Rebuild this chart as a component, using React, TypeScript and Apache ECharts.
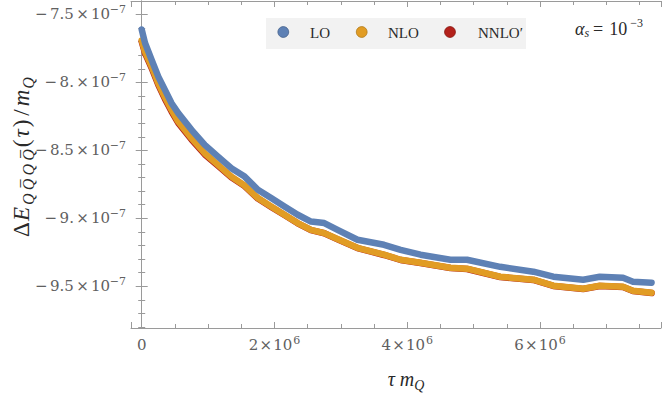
import React, { useEffect, useRef } from "react";
import * as echarts from "echarts";

// tau * m_Q values
const tau = [
  0, 5e4, 1.5e5, 2.5e5, 3.5e5, 4.5e5, 5.5e5, 7.5e5, 9.5e5, 1.15e6, 1.35e6, 1.55e6,
  1.75e6, 1.95e6, 2.15e6, 2.35e6, 2.55e6, 2.75e6, 2.95e6, 3.25e6, 3.65e6, 3.9e6,
  4.2e6, 4.65e6, 4.9e6, 5.4e6, 5.9e6, 6.2e6, 6.65e6, 6.9e6, 7.25e6, 7.4e6, 7.68e6,
];
const LO = [
  -7.61e-7, -7.71e-7, -7.835e-7, -7.957e-7, -8.055e-7, -8.153e-7, -8.226e-7, -8.349e-7,
  -8.46e-7, -8.546e-7, -8.631e-7, -8.693e-7, -8.79e-7, -8.851e-7, -8.913e-7, -8.974e-7,
  -9.024e-7, -9.035e-7, -9.085e-7, -9.158e-7, -9.195e-7, -9.232e-7, -9.268e-7, -9.305e-7,
  -9.305e-7, -9.357e-7, -9.393e-7, -9.43e-7, -9.452e-7, -9.43e-7, -9.438e-7, -9.467e-7,
  -9.474e-7,
];
const NLO = [
  -7.69e-7, -7.774e-7, -7.884e-7, -8.006e-7, -8.109e-7, -8.202e-7, -8.288e-7, -8.41e-7,
  -8.521e-7, -8.607e-7, -8.693e-7, -8.759e-7, -8.851e-7, -8.913e-7, -8.974e-7, -9.035e-7,
  -9.085e-7, -9.109e-7, -9.153e-7, -9.217e-7, -9.268e-7, -9.305e-7, -9.327e-7, -9.364e-7,
  -9.371e-7, -9.43e-7, -9.452e-7, -9.496e-7, -9.518e-7, -9.496e-7, -9.504e-7, -9.533e-7,
  -9.548e-7,
];
const NNLO = [
  -7.7e-7, -7.785e-7, -7.895e-7, -8.018e-7, -8.121e-7, -8.214e-7, -8.298e-7, -8.42e-7,
  -8.53e-7, -8.614e-7, -8.698e-7, -8.763e-7, -8.855e-7, -8.916e-7, -8.976e-7, -9.037e-7,
  -9.087e-7, -9.11e-7, -9.155e-7, -9.219e-7, -9.27e-7, -9.307e-7, -9.329e-7, -9.366e-7,
  -9.373e-7, -9.432e-7, -9.454e-7, -9.498e-7, -9.52e-7, -9.498e-7, -9.506e-7, -9.535e-7,
  -9.55e-7,
];
const seriesNames = ["LO", "NLO", "NNLO\u2032"];
const seriesColors = ["#5e81b5", "#e19c24", "#b3211b"];
const seriesBorders = ["#46628c", "#b07a1a", "#851812"];

const X_MIN = -1.613e5;
const X_MAX = 7.822e6;
const Y_MIN = -9.8074e-7;
const Y_MAX = -7.4007e-7;

const FONT = "Liberation Serif";
const TICK_FONT = "DejaVu Serif";
const AXIS_COLOR = "#9a9a9a";
const LABEL_COLOR = "#606060";
const TEXT_COLOR = "#2a2a2a";

const base = { fontFamily: TICK_FONT, fontSize: 15, color: LABEL_COLOR, lineHeight: 20 };
const labelRich = {
  n: { ...base },
  m: { ...base, width: 15, align: "left" },
  x: { ...base, width: 17, align: "center" },
  x2: { ...base, width: 15, align: "center" },
  s: { ...base, fontSize: 11, verticalAlign: "top", width: 16, align: "right" },
  s2: { ...base, fontSize: 11, verticalAlign: "top", width: 8, align: "right" },
};

function yFmt(v: number) {
  const k = Math.round(v * 1e8) / 10;
  const a = Math.abs(k);
  const str = Number.isInteger(a) ? `${a}.` : a.toFixed(1);
  return `{m|\u2212}{n|${str}}{x|×}{n|10}{s|\u22127}`;
}
function xFmt(v: number) {
  if (Math.abs(v) < 1) return "{n|0}";
  const k = Math.round(v / 1e6);
  return `{n|${k}}{x2|×}{n|10}{s2|6}`;
}

export default function App() {
  const ref = useRef<HTMLDivElement>(null);
  useEffect(() => {
    if (!ref.current) return;
    const chart = echarts.init(ref.current, undefined, { renderer: "svg" });
    const xBase = {
      type: "value",
      min: X_MIN,
      max: X_MAX,
      minInterval: 2e6,
      maxInterval: 2e6,
      splitNumber: 4,
      axisLine: { show: true, lineStyle: { color: AXIS_COLOR, width: 1 } },
      axisTick: { show: true, inside: true, length: 6, lineStyle: { color: AXIS_COLOR } },
      minorTick: { show: true, splitNumber: 4, length: 4, lineStyle: { color: AXIS_COLOR } },
      splitLine: { show: false },
      minorSplitLine: { show: false },
    };
    const yBase = {
      type: "value",
      min: Y_MIN,
      max: Y_MAX,
      minInterval: 5e-8,
      maxInterval: 5e-8,
      splitNumber: 5,
      axisLine: { show: true, lineStyle: { color: AXIS_COLOR, width: 1 } },
      axisTick: { show: true, inside: true, length: 6, lineStyle: { color: AXIS_COLOR } },
      minorTick: { show: true, splitNumber: 5, length: 3.5, lineStyle: { color: AXIS_COLOR } },
      splitLine: { show: false },
      minorSplitLine: { show: false },
    };
    const data = [NNLO, NLO, LO];
    const order = [2, 1, 0];
    const subStyle = (size: number, lh: number) => ({
      fontFamily: FONT, fontStyle: "italic", fontSize: size, fill: TEXT_COLOR, lineHeight: lh, verticalAlign: "bottom",
    });
    const option = {
      animation: false,
      textStyle: { fontFamily: FONT },
      grid: { left: 131, top: 1, right: 3, bottom: 68 },
      xAxis: [
        {
          ...xBase,
          position: "bottom",
          axisLabel: {
            show: true,
            margin: 7,
            fontFamily: TICK_FONT,
            fontSize: 15,
            color: LABEL_COLOR,
            showMinLabel: false,
            showMaxLabel: false,
            formatter: xFmt,
            rich: labelRich,
          },
        },
        { ...xBase, position: "top", axisLabel: { show: false } },
      ],
      yAxis: [
        {
          ...yBase,
          position: "left",
          axisLabel: {
            show: true,
            margin: 5,
            fontFamily: TICK_FONT,
            fontSize: 15,
            color: LABEL_COLOR,
            showMinLabel: false,
            showMaxLabel: false,
            formatter: yFmt,
            rich: labelRich,
          },
        },
        { ...yBase, position: "right", axisLabel: { show: false } },
      ],
      series: order.map((si, k) => ({
        name: seriesNames[si],
        type: "line",
        xAxisIndex: 0,
        yAxisIndex: 0,
        showSymbol: false,
        symbol: "none",
        clip: true,
        z: 2 + k,
        lineStyle: { color: seriesColors[si], width: 6.5, cap: "round", join: "round" },
        itemStyle: { color: seriesColors[si] },
        data: tau.map((t, i) => [t, data[k][i]]),
      })),
      graphic: [
        {
          type: "rect",
          shape: { x: 266, y: 18, width: 260, height: 31 },
          style: { fill: "#f2f2f2" },
          z: 100,
        },
        ...[283.3, 361.7, 450].map((cx, i) => ({
          type: "circle",
          shape: { cx, cy: 32, r: 5.4 },
          style: { fill: seriesColors[i], stroke: seriesBorders[i], lineWidth: 0.8 },
          z: 101,
        })),
        ...[310, 388, 478].map((x, i) => ({
          type: "text",
          x,
          y: 33,
          style: {
            text: seriesNames[i],
            fontFamily: FONT,
            fontSize: 15,
            fill: TEXT_COLOR,
            align: "left",
            verticalAlign: "middle",
          },
          z: 101,
        })),
        {
          type: "text",
          x: 575,
          y: 29,
          style: {
            text: "{i|\u03b1}{sub|s}{u|=}{u|10}{sup|\u22123}",
            align: "left",
            verticalAlign: "middle",
            rich: {
              i: { fontFamily: FONT, fontStyle: "italic", fontSize: 18, fill: TEXT_COLOR, lineHeight: 24 },
              u: { fontFamily: FONT, fontSize: 18, fill: TEXT_COLOR, lineHeight: 24, padding: [0, 3, 0, 3] },
              sub: { fontFamily: FONT, fontStyle: "italic", fontSize: 12, fill: TEXT_COLOR, lineHeight: 24, verticalAlign: "bottom", padding: [0, 1, 2, 0] },
              sup: { fontFamily: FONT, fontSize: 12, fill: TEXT_COLOR, lineHeight: 24, verticalAlign: "top", padding: [0, 0, 0, 0] },
            },
          },
          z: 101,
        },
        {
          type: "text",
          x: 406,
          y: 379,
          style: {
            text: "{i|\u03c4}{m|m}{sub|Q}",
            align: "center",
            verticalAlign: "middle",
            rich: {
              i: { fontFamily: FONT, fontStyle: "italic", fontSize: 20, fill: TEXT_COLOR, lineHeight: 26 },
              m: { fontFamily: FONT, fontStyle: "italic", fontSize: 20, fill: TEXT_COLOR, lineHeight: 26, padding: [0, 0, 0, 5] },
              sub: { ...subStyle(14, 26) },
            },
          },
          z: 101,
        },
        {
          type: "text",
          x: 21,
          y: 157,
          rotation: Math.PI / 2,
          style: {
            text: "{u|\u0394}{e|E}{sub|Q\u2009Q\u0305\u2009Q\u2009Q\u0305}{p|(}{i|\u03c4}{p|)}{s|/}{i|m}{sq|Q}",
            align: "center",
            verticalAlign: "middle",
            rich: {
              u: { fontFamily: FONT, fontSize: 23, fill: TEXT_COLOR, lineHeight: 30 },
              e: { fontFamily: FONT, fontStyle: "italic", fontSize: 23, fill: TEXT_COLOR, lineHeight: 30, padding: [0, 2, 0, 1] },
              i: { fontFamily: FONT, fontStyle: "italic", fontSize: 23, fill: TEXT_COLOR, lineHeight: 30 },
              p: { fontFamily: FONT, fontSize: 23, fill: TEXT_COLOR, lineHeight: 30, padding: [0, 2, 0, 2] },
              s: { fontFamily: FONT, fontSize: 23, fill: TEXT_COLOR, lineHeight: 30, padding: [0, 3, 0, 2] },
              sub: { ...subStyle(16, 30) },
              sq: { ...subStyle(16, 30), padding: [0, 0, 0, 1] },
            },
          },
          z: 101,
        },
      ],
    };
    chart.setOption(option as any);
    return () => chart.dispose();
  }, []);
  return (
    <div
      ref={ref}
      style={{ position: "absolute", left: 0, top: 0, width: 664, height: 396 }}
    />
  );
}
